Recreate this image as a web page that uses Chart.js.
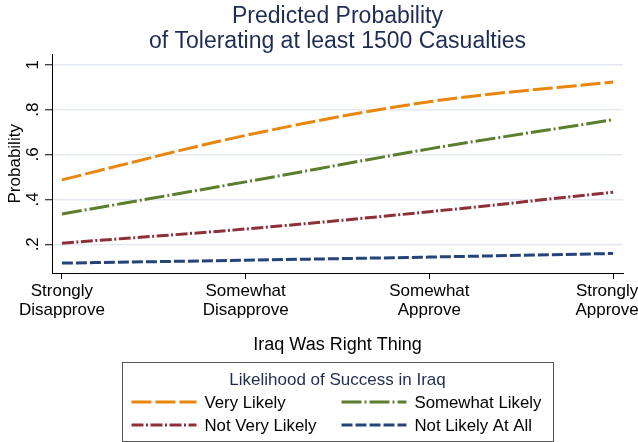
<!DOCTYPE html>
<html>
<head>
<meta charset="utf-8">
<script src="https://cdn.jsdelivr.net/npm/chart.js@4/dist/chart.umd.min.js"></script>
<style>
	html, body { margin: 0; padding: 0; background: #fff; }
	#wrap { width: 638px; height: 442px; }
</style>
</head>
<body>
<div id="wrap"><canvas id="myChart"></canvas></div>
<script>
// <block:data>
const categories = [
	['Strongly', 'Disapprove'],
	['Somewhat', 'Disapprove'],
	['Somewhat', 'Approve'],
	['Strongly', 'Approve'],
];
const xValues = [1, 2, 3, 4];
const veryLikely = [0.487, 0.685, 0.835, 0.923];
const somewhatLikely = [0.335, 0.478, 0.625, 0.755];
const notVeryLikely = [0.205, 0.268, 0.345, 0.432];
const notLikelyAtAll = [0.116, 0.129, 0.143, 0.159];
const yTickValues = [0.2, 0.4, 0.6, 0.8, 1];
const yTickLabels = ['.2', '.4', '.6', '.8', '1'];
const seriesNames = ['Very Likely', 'Somewhat Likely', 'Not Very Likely', 'Not Likely At All'];
// </block:data>

const FONT = 'Liberation Sans, Arial, Helvetica, sans-serif';

function pts(values) {
	return values.map((v, i) => ({ x: xValues[i], y: v }));
}

const data = {
	datasets: [
		{ label: seriesNames[0], data: pts(veryLikely), borderColor: '#e8860e', borderDash: [20, 4] },
		{ label: seriesNames[1], data: pts(somewhatLikely), borderColor: '#5a7e2c', borderDash: [20, 3, 2, 3] },
		{ label: seriesNames[2], data: pts(notVeryLikely), borderColor: '#8e3038', borderDash: [12, 2.5, 2, 2.5] },
		{ label: seriesNames[3], data: pts(notLikelyAtAll), borderColor: '#24447a', borderDash: [11, 3] },
	].map(ds => Object.assign(ds, {
		borderWidth: 3,
		pointRadius: 0,
		fill: false,
		cubicInterpolationMode: 'monotone',
		borderCapStyle: 'butt',
	})),
};

/* garder le dernier libelle de l'axe x dans le canevas */
const keepLastLabelInside = {
	id: 'keepLastLabelInside',
	beforeDraw(chart) {
		const items = chart.scales.x.getLabelItems();
		const last = items[items.length - 1];
		if (last) last.options.translation[0] -= 6;
	},
};

/* legende dessinee a la main, dans un cadre, sur deux colonnes */
const boxLegend = {
	id: 'boxLegend',
	afterDraw(chart) {
		const ctx = chart.ctx;
		const area = chart.chartArea;
		const cx = (area.left + area.right) / 2;
		const w = 431, top = 362, bottom = 441;
		const left = Math.round(cx - w / 2) + 0.5;
		ctx.save();
		ctx.strokeStyle = '#555';
		ctx.lineWidth = 1;
		ctx.strokeRect(left, top + 0.5, w, bottom - top);

		ctx.fillStyle = '#1f2d55';
		ctx.font = '17px ' + FONT;
		ctx.textAlign = 'center';
		ctx.textBaseline = 'middle';
		ctx.fillText('Likelihood of Success in Iraq', cx, 380);

		ctx.font = '16.8px ' + FONT;
		ctx.textAlign = 'left';
		chart.data.datasets.forEach((ds, i) => {
			const col = i % 2, row = Math.floor(i / 2);
			const x0 = left + 9 + col * 210;
			const y = 402 + row * 23;
			ctx.strokeStyle = ds.borderColor;
			ctx.lineWidth = 3;
			ctx.setLineDash(ds.borderDash);
			ctx.beginPath();
			ctx.moveTo(x0, y);
			ctx.lineTo(x0 + 65, y);
			ctx.stroke();
			ctx.setLineDash([]);
			ctx.fillStyle = '#000';
			ctx.fillText(ds.label, x0 + 73, y + 1);
		});
		ctx.restore();
	},
};

const config = {
	type: 'line',
	data: data,
	options: {
		responsive: true,
		maintainAspectRatio: false,
		animation: false,
		layout: { padding: { left: 2, right: 15, top: 0, bottom: 86 } },
		plugins: {
			legend: false,
			tooltip: { enabled: false },
			title: {
				display: true,
				fullSize: false,
				text: ['Predicted Probability', 'of Tolerating at least 1500 Casualties'],
				color: '#1f2d55',
				font: { family: FONT, size: 23, weight: 'normal', lineHeight: 1.1 },
				padding: { top: 4, bottom: 0 },
			},
		},
		scales: {
			x: {
				type: 'linear',
				min: 0.946,
				max: 4.054,
				afterBuildTicks: scale => { scale.ticks = xValues.map(v => ({ value: v })); },
				afterFit: scale => { scale.height = 83; scale.paddingLeft = 0; scale.paddingRight = 0; },
				ticks: {
					autoSkip: false,
					maxRotation: 0,
					padding: 3,
					color: '#000',
					font: { family: FONT, size: 17, lineHeight: 1.12 },
					callback: value => categories[xValues.indexOf(value)],
				},
				grid: { drawOnChartArea: false, tickLength: 6, tickColor: '#000', tickWidth: 1 },
				border: { color: '#000', width: 1 },
				title: {
					display: true,
					text: 'Iraq Was Right Thing',
					color: '#000',
					font: { family: FONT, size: 18, lineHeight: 1.2 },
					padding: { top: 10, bottom: 0 },
				},
			},
			y: {
				min: 0.072,
				max: 1.045,
				afterBuildTicks: scale => { scale.ticks = yTickValues.map(v => ({ value: v })); },
				afterFit: scale => { scale.width = 50; },
				ticks: {
					minRotation: 90,
					maxRotation: 90,
					crossAlign: 'center',
					padding: 5,
					color: '#000',
					font: { family: FONT, size: 17, lineHeight: 1.2 },
					callback: value => yTickLabels[yTickValues.indexOf(value)],
				},
				grid: { color: '#e4e9f1', lineWidth: 1.5, tickLength: 7, tickColor: '#000', tickWidth: 1 },
				border: { color: '#000', width: 1 },
				title: {
					display: true,
					text: 'Probability',
					color: '#000',
					font: { family: FONT, size: 17, lineHeight: 1.2 },
					padding: { top: 3, bottom: 2 },
				},
			},
		},
	},
	plugins: [keepLastLabelInside, boxLegend],
};

/* creation du graphique */
const context = document.getElementById('myChart').getContext('2d');
const chart = new Chart(context, config);
</script>
</body>
</html>
